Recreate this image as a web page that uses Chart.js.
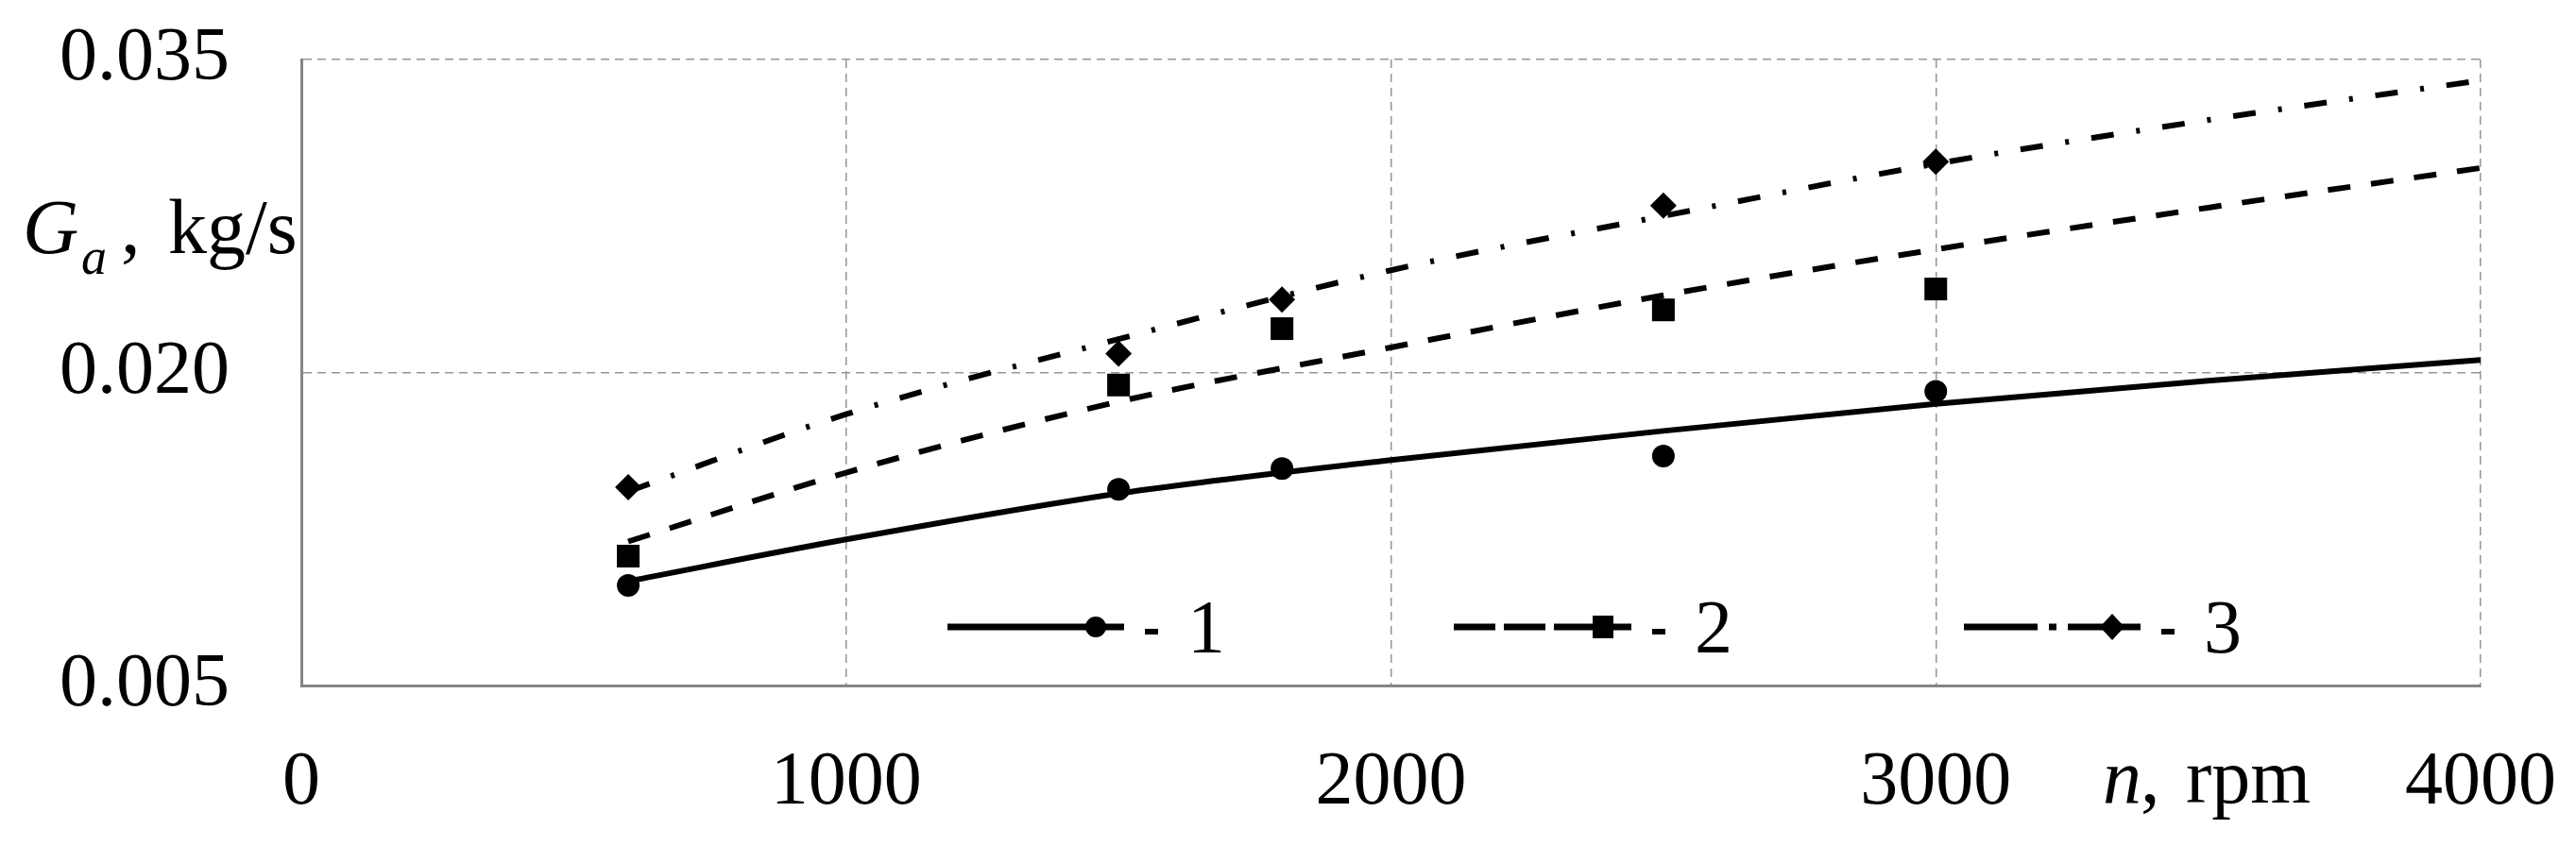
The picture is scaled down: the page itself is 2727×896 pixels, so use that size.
<!DOCTYPE html>
<html>
<head>
<meta charset="utf-8">
<script src="https://cdn.jsdelivr.net/npm/chart.js@4"></script>
<style>
  html, body { margin: 0; padding: 0; background: #fff; }
  #wrap { width: 2727px; height: 896px; position: relative; }
</style>
</head>
<body>
<div id="wrap"><canvas id="chart"></canvas></div>
<script>
// measured points
const rpm = [600, 1500, 1800, 2500, 3000];
const g1 = [0.0098, 0.0144, 0.0154, 0.0160, 0.0191];
const g2 = [0.0112, 0.0194, 0.0221, 0.0230, 0.0240];
const g3 = [0.0145, 0.0209, 0.0235, 0.0280, 0.0301];

// trend curves
const trendRpm = [600, 1000, 1500, 2000, 2500, 3000, 3500, 4000];
const t1 = [0.0100, 0.0120, 0.0142, 0.0158, 0.0172, 0.0185, 0.0196, 0.0206];
const t2 = [0.0119, 0.0152, 0.0186, 0.0212, 0.0237, 0.0259, 0.0279, 0.0298];
const t3 = [0.0143, 0.0180, 0.0216, 0.0249, 0.0275, 0.0300, 0.0321, 0.0340];

const xTicks = [0, 1000, 2000, 3000, 4000];
const yTicks = [0.005, 0.020, 0.035];
const seriesNames = ["1", "2", "3"];

const FONT = "Liberation Serif, Times New Roman, serif";
const pts = (xs, ys) => xs.map((x, i) => ({ x: x, y: ys[i] }));

function trend(data, dash) {
  return {
    type: "line", data: data, borderColor: "#000", borderWidth: 6,
    borderDash: dash, pointRadius: 0, cubicInterpolationMode: "monotone", fill: false
  };
}
function marks(data, style, r) {
  return {
    type: "scatter", data: data, pointStyle: style, pointRadius: r,
    pointBackgroundColor: "#000", pointBorderColor: "#000", pointBorderWidth: 0, showLine: false
  };
}

function marker(ctx, style, x, y) {
  ctx.beginPath();
  if (style === "circle") ctx.arc(x, y, 11, 0, Math.PI * 2);
  else if (style === "rect") ctx.rect(x - 11, y - 12, 22, 24);
  else { ctx.moveTo(x, y - 14); ctx.lineTo(x + 13, y); ctx.lineTo(x, y + 14); ctx.lineTo(x - 13, y); ctx.closePath(); }
  ctx.fill();
}

// no extra room for label overflow, the layout padding handles it
function noOverflow(s) {
  s.paddingTop = 0; s.paddingBottom = 0; s.paddingLeft = 0; s.paddingRight = 0;
}

const textPlugin = {
  id: "texts",
  afterDraw(chart) {
    const ctx = chart.ctx;
    ctx.save();
    ctx.fillStyle = "#000";
    ctx.strokeStyle = "#000";
    ctx.textBaseline = "alphabetic";

    // y axis title
    ctx.font = "italic 82px " + FONT;
    ctx.fillText("G", 24, 268);
    ctx.font = "italic 54px " + FONT;
    ctx.fillText("a", 86, 290);
    ctx.font = "82px " + FONT;
    ctx.fillText(",", 128, 268);
    ctx.fillText("kg/s", 178, 268);

    // x axis title
    ctx.font = "italic 82px " + FONT;
    ctx.fillText("n", 2226, 850);
    ctx.font = "82px " + FONT;
    ctx.fillText(",", 2266, 850);
    ctx.fillText("rpm", 2314, 850);

    // legend
    const items = [
      { x0: 1003, x1: 1160, dash: [], style: "circle" },
      { x0: 1539, x1: 1697, dash: [44, 9], style: "rect" },
      { x0: 2079, x1: 2236, dash: [78, 12, 8, 12], style: "diamond" }
    ];
    const ly = 664;
    items.forEach((it, i) => {
      ctx.lineWidth = 7;
      ctx.setLineDash(it.dash);
      ctx.beginPath();
      ctx.moveTo(it.x0, ly);
      ctx.lineTo(it.x1 + 30, ly);
      ctx.stroke();
      ctx.setLineDash([]);
      marker(ctx, it.style, it.x1, ly);
      ctx.fillRect(it.x1 + 52, ly + 2, 14, 6);
      ctx.font = "80px " + FONT;
      ctx.textAlign = "center";
      ctx.fillText(seriesNames[i], it.x1 + 117, ly + 27);
      ctx.textAlign = "left";
    });
    ctx.restore();
  }
};

new Chart(document.getElementById("chart"), {
  data: {
    datasets: [
      trend(pts(trendRpm, t1), []),
      trend(pts(trendRpm, t2), [24, 22]),
      trend(pts(trendRpm, t3), [24, 24, 4, 24]),
      marks(pts(rpm, g1), "circle", 12),
      marks(pts(rpm, g2), "rect", 17),
      marks(pts(rpm, g3), "rectRot", 14)
    ]
  },
  options: {
    responsive: true,
    maintainAspectRatio: false,
    animation: false,
    events: [],
    layout: { padding: { left: 0, right: 101, top: 63, bottom: 0 } },
    plugins: { legend: { display: false }, tooltip: { enabled: false } },
    scales: {
      x: {
        type: "linear", min: 0, max: 4000,
        afterBuildTicks: s => { s.ticks = xTicks.map(v => ({ value: v })); },
        afterFit: s => { s.height = 170; noOverflow(s); },
        grid: { color: "#959595", lineWidth: 1.5, drawTicks: false },
        border: { display: true, color: "#858585", width: 3, dash: [9, 6] },
        ticks: { color: "#000", padding: 56, font: { family: FONT, size: 80 }, maxRotation: 0,
                 callback: v => String(v) }
      },
      y: {
        type: "linear", min: 0.005, max: 0.035,
        afterBuildTicks: s => { s.ticks = yTicks.map(v => ({ value: v })); },
        afterFit: s => { s.width = 319; noOverflow(s); },
        grid: { color: "#959595", lineWidth: 1.5, drawTicks: false },
        border: { display: true, color: "#858585", width: 3, dash: [9, 6] },
        ticks: { color: "#000", padding: 76, font: { family: FONT, size: 80 },
                 callback: v => v.toFixed(3) }
      }
    }
  },
  plugins: [textPlugin]
});
</script>
</body>
</html>
